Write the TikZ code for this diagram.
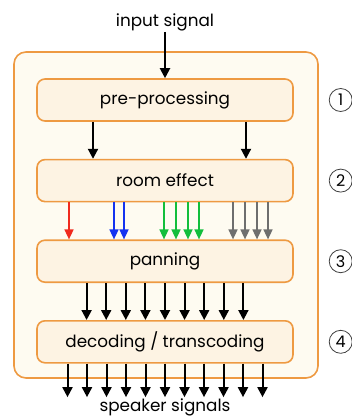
\documentclass[tikz,border=0pt]{standalone}
\usepackage{fontspec}
\setmainfont{Poppins}
\usetikzlibrary{arrows.meta,positioning}
\definecolor{frameorange}{HTML}{EE9A42}
\definecolor{framefill}{HTML}{FEFBF1}
\definecolor{boxfill}{HTML}{FDF3E3}
\definecolor{sigred}{HTML}{F02A1E}
\definecolor{sigblue}{HTML}{1432F0}
\definecolor{siggreen}{HTML}{12BE3C}
\definecolor{siggrey}{HTML}{6E6E6E}
\tikzstyle{Frame} = [draw=frameorange, fill=framefill, line width=1.6pt, rounded corners=12pt]
\tikzstyle{Block} = [draw=frameorange, fill=boxfill, line width=1.6pt, rounded corners=8pt, minimum width=256pt, minimum height=42pt, font=\fontsize{16.8}{20}\selectfont]
\tikzstyle{Label} = [font=\fontsize{16.8}{20}\selectfont, inner sep=1pt]
\tikzstyle{Step} = [draw=black!75, circle, line width=0.8pt, minimum size=23pt, inner sep=0pt, font=\fontsize{16}{18}\selectfont]
\tikzstyle{Sig} = [-{Triangle[length=10pt,width=10pt]}, line width=2pt]
\tikzstyle{SubSig} = [-{Triangle[length=10pt,width=9pt]}, line width=1.6pt]

\begin{document}
\begin{tikzpicture}[x=1pt,y=-1pt]
    \useasboundingbox (0,0) rectangle (352,419);
    \node[Frame, minimum width=304pt, minimum height=326pt] (frame) at (166,215) {};
    \node[Block] (pre) at (165,100)        {pre-processing};
    \node[Block] (room) [below=37pt of pre]  {room effect};
    \node[Block] (pan)  [below=37pt of room] {panning};
    \node[Block] (dec)  [below=37pt of pan]  {decoding / transcoding};
    \node[Label] (in)  at (165,22)  {input signal};
    \node[Label] (spk) at (165,407) {speaker signals};
    \node[Step] (one)   [right=35pt of pre]  {1};
    \node[Step] (two)   [right=35pt of room] {2};
    \node[Step] (three) [right=35pt of pan]  {3};
    \node[Step] (four)  [right=35pt of dec]  {4};
    \draw[Sig] (in) to (pre);
    \foreach \x in {-72,81}
        \draw[Sig] ([xshift=\x pt]pre.south) to ([xshift=\x pt]room.north);
    \draw[SubSig, sigred] ([xshift=-96pt]room.south) to ([xshift=-96pt]pan.north);
    \foreach \x in {-51,-41}
        \draw[SubSig, sigblue] ([xshift=\x pt]room.south) to ([xshift=\x pt]pan.north);
    \foreach \x in {-1,11,23,34}
        \draw[SubSig, siggreen] ([xshift=\x pt]room.south) to ([xshift=\x pt]pan.north);
    \foreach \x in {68,80,92,103}
        \draw[SubSig, siggrey] ([xshift=\x pt]room.south) to ([xshift=\x pt]pan.north);
    \foreach \i in {-4,...,4}
        \draw[Sig] ([xshift=\i*19.6pt]pan.south) to ([xshift=\i*19.6pt]dec.north);
    \foreach \i in {-5,...,5}
        \draw[Sig] ([xshift=\i*19.5pt]dec.south) to ([xshift=\i*19.5pt]dec.south |- spk.north);
\end{tikzpicture}
\end{document}
